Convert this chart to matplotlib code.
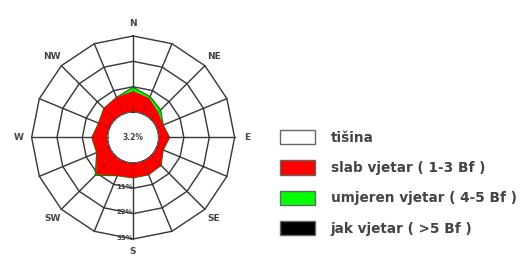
import numpy as np
import matplotlib
matplotlib.use("Agg")
import matplotlib.pyplot as plt
from matplotlib.patches import Patch

# ---- data ----
directions = ['N', 'NNE', 'NE', 'ENE', 'E', 'ESE', 'SE', 'SSE',
              'S', 'SSW', 'SW', 'WSW', 'W', 'WNW', 'NW', 'NNW']
slab = [9.1, 7.4, 4.4, 3.1, 4.8, 3.1, 6.1, 6.5, 6.5, 6.9, 11.6, 6.1, 6.9, 5.2, 6.9, 7.8]
umjeren = [1.7, 0.8, 1.5, 0.0, 0.0, 0.0, 0.0, 0.0, 0.0, 0.0, 0.6, 0.0, 0.0, 0.0, 0.0, 0.0]
jak = [0.0] * 16
calm = 3.2
ring_values = [11, 22, 33]
label_dirs = ['N', 'NE', 'E', 'SE', 'S', 'SW', 'W', 'NW']
legend_labels = ['tišina', 'slab vjetar ( 1-3 Bf )', 'umjeren vjetar ( 4-5 Bf )', 'jak vjetar ( >5 Bf )']
legend_colors = ['#ffffff', '#ff0000', '#00ff00', '#000000']

# ---- figure ----
fig = plt.figure(figsize=(5.2, 2.57), dpi=100)
ax = fig.add_axes([0.058, 0.07, 0.396, 0.79], projection='polar')
ax.set_theta_zero_location('N')
ax.set_theta_direction(-1)
rmax = ring_values[-1]
ax.set_ylim(0, rmax)
ax.set_rorigin(-ring_values[0])
ax.grid(False)
ax.set_xticks([])
ax.set_yticks([])
ax.spines['polar'].set_visible(False)

n = len(directions)
theta = np.arange(n) * 2 * np.pi / n
theta_c = np.append(theta, theta[0])

s = np.array(slab)
g = s + np.array(umjeren)
b = g + np.array(jak)

def closed(v):
    return np.append(v, v[0])

grid_col = '#444444'
# spokes and polygonal rings (under the fills)
for th in theta:
    ax.plot([th, th], [0, rmax], color=grid_col, lw=1.0, zorder=0.5, clip_on=False)
for rv in ring_values:
    ax.plot(theta_c, [rv] * (n + 1), color=grid_col, lw=1.0, zorder=0.5, clip_on=False)

ax.fill(theta_c, closed(b), color='#000000', zorder=1, lw=0)
ax.fill(theta_c, closed(g), color='#00ff00', zorder=1.1, lw=0)
ax.plot(theta_c, closed(g), color='#1a7a1a', lw=0.9, zorder=1.15)
ax.fill(theta_c, closed(s), color='#ff0000', zorder=1.2, lw=0)

# faint grid visible through the fills
for th in theta:
    ax.plot([th, th], [0, rmax], color='#000000', lw=0.8, alpha=0.18, zorder=1.3)
for rv in ring_values:
    ax.plot(theta_c, [rv] * (n + 1), color='#000000', lw=0.8, alpha=0.18, zorder=1.3)

# calm circle
tf = np.linspace(0, 2 * np.pi, 300)
ax.fill(tf, np.zeros_like(tf), color='white', zorder=3, lw=0)
ax.plot(tf, np.zeros_like(tf), color='#888888', lw=0.6, zorder=3.1)
ax.text(0, -ring_values[0], f'{calm}%', ha='center', va='center', fontsize=5.5,
        color='#444444', fontweight='bold', zorder=4)

# ring labels along S axis
for rv in ring_values:
    ax.text(np.pi, rv - 0.6, f'{rv}%', ha='right', va='center', fontsize=5,
            color='#444444', fontweight='bold', zorder=4, clip_on=False)

# direction labels
for lab in label_dirs:
    th = theta[directions.index(lab)]
    ax.text(th, rmax + 5.5, lab, ha='center', va='center', fontsize=6.5,
            color='#444444', fontweight='bold', clip_on=False)

# legend
handles = [Patch(facecolor=c, edgecolor='#666666', linewidth=1.0) for c in legend_colors]
fig.legend(handles, legend_labels, loc='upper left', bbox_to_anchor=(0.538, 0.495),
           frameon=False, prop={'size': 9.8, 'weight': 'bold'}, handlelength=2.6,
           handleheight=1.25, labelspacing=1.15, handletextpad=1.15, borderpad=0,
           borderaxespad=0, labelcolor='#444444')

fig.savefig('out.png', dpi=100)
